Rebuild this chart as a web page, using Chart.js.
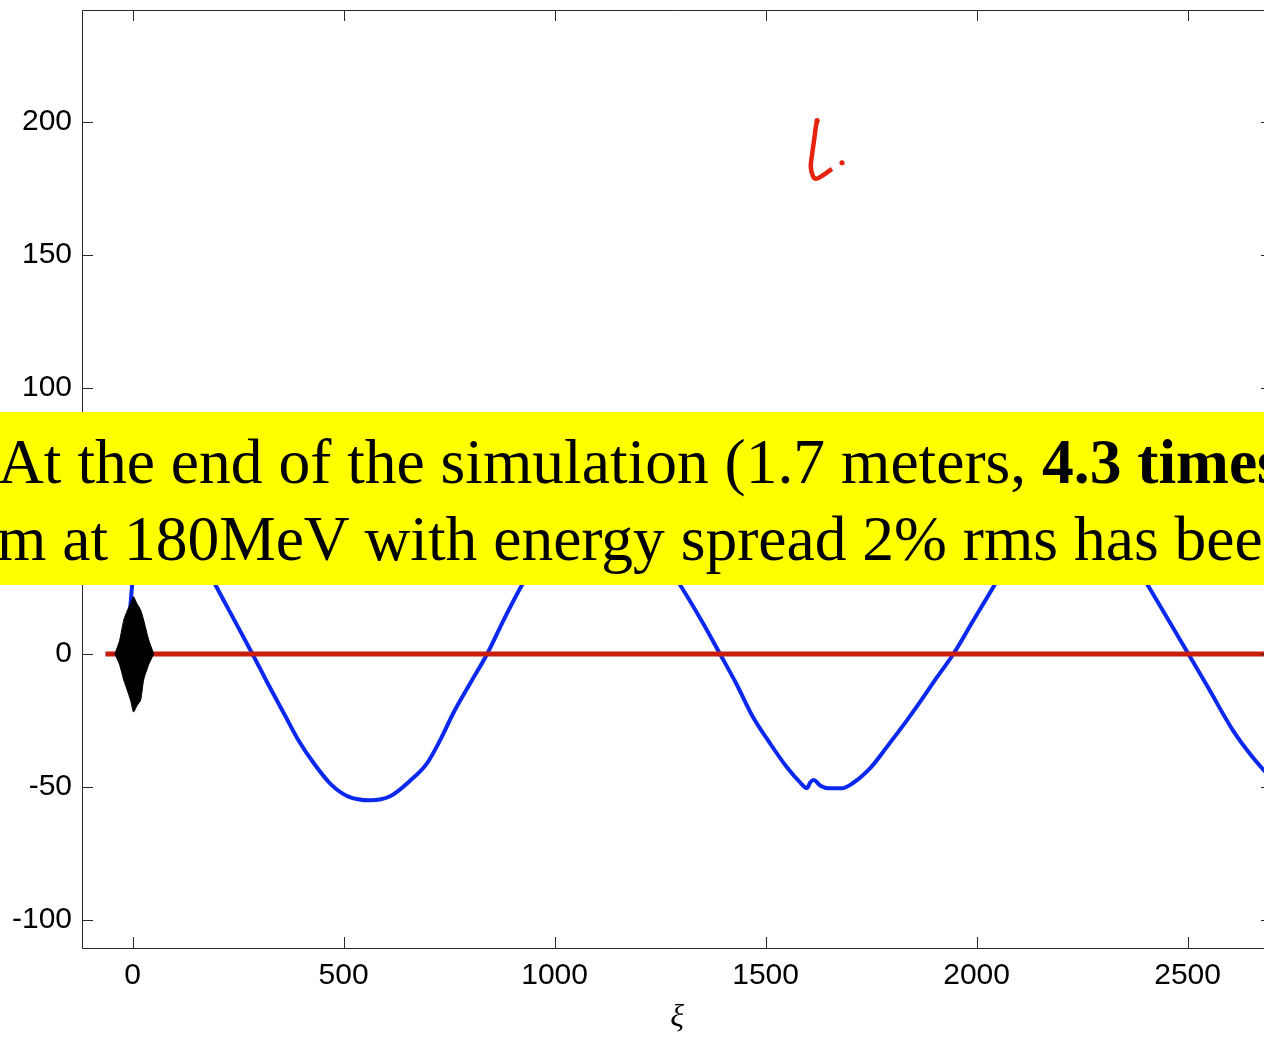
<!DOCTYPE html>
<html>
<head>
<meta charset="utf-8">
<script src="https://cdn.jsdelivr.net/npm/chart.js@4.4.1/dist/chart.umd.min.js"></script>
<style>
  html, body { margin: 0; padding: 0; background: #ffffff; overflow: hidden; width: 1264px; height: 1037px; }
  #wrap { position: absolute; left: 0; top: 0; width: 1290px; height: 1037px; }
  #banner { position: absolute; left: 0; top: 412px; width: 1264px; height: 173px; background: #ffff00; overflow: hidden; }
  .bl { position: absolute; white-space: nowrap; font-family: "Times New Roman", "Liberation Serif", serif; font-size: 63.5px; line-height: 64px; color: #000; }
  #l1 { left: -2px; top: 18px; }
  #l2 { left: -3px; top: 95px; }
</style>
</head>
<body>
<div id="wrap"><canvas id="c" width="1290" height="1037"></canvas></div>
<div id="banner">
  <div class="bl" id="l1">At the end of the simulation (1.7 meters, <b>4.3 times</b></div>
  <div class="bl" id="l2">m at 180MeV with energy spread 2% rms has bee</div>
</div>
<script>
// ---- data ----
const wakeXi = [-64,-40,-20,-10,0,10,20,35,55,80,110,140,170,196,240,284,320,358,395,429,470,510,563,610,655,698,730,760,800,840,880,923,970,1020,1070,1110,1150,1200,1250,1297,1350,1392,1430,1470,1510,1550,1580,1598,1606,1614,1630,1650,1680,1707,1750,1787,1830,1866,1905,1945,1990,2043,2090,2140,2190,2230,2270,2320,2370,2405,2450,2502,2550,2607,2650,2680,2700];
const wakeVal = [0,0,3,10,28,42,50,55,57,56,51,44,34,26,13,0,-11,-22.2,-33,-41,-49,-53.5,-55,-53.5,-48,-41,-32,-22.2,-11,0,13,26,38,48,54,56,54,47,37,26,12,0,-11,-23.7,-33.5,-42.5,-48,-50.4,-48.2,-47.4,-49.5,-50.5,-50.5,-48.5,-42.5,-35,-26,-18,-9,0,12,26,38,48,54,56,54,46,35,26,14,0,-13,-28.6,-38,-43.6,-47];

const axisXi = [-64, 2700];
const axisVal = [0, 0];

const bunchXi = [-42,-31,-21,-12,-5,2,10,19,26,38,50];
const bunchUpper = [0,5,12.8,16.5,19,21.5,19,16.5,12.8,5.3,0];
const bunchLower = [0,-4,-9.8,-14,-17.3,-21.8,-19.5,-17.3,-9.8,-4,0];

const markXi = [1622,1619,1615,1610,1607,1612,1619,1634,1657];
const markVal = [200.4,198.1,193.2,187.6,183.1,179.7,178.6,179.7,182.3];
const dotXi = [1622, 1681];
const dotVal = [200.4, 184.6];

const xTickValues = [0, 500, 1000, 1500, 2000, 2500];
const yTickValues = [-100, -50, 0, 50, 100, 150, 200];

function pts(xs, ys) { return xs.map((x, i) => ({ x: x, y: ys[i] })); }

const boxPlugin = {
  id: 'box',
  afterDraw(chart) {
    const ctx = chart.ctx, a = chart.chartArea;
    const xs = chart.scales.x, ys = chart.scales.y;
    const L = 11;
    ctx.save();
    ctx.strokeStyle = '#2a2a2a';
    ctx.lineWidth = 1;
    ctx.beginPath();
    ctx.rect(a.left + 0.5, a.top + 0.5, a.right - a.left, a.bottom - a.top);
    xs.ticks.forEach(t => {
      const p = Math.round(xs.getPixelForValue(t.value)) + 0.5;
      ctx.moveTo(p, a.bottom); ctx.lineTo(p, a.bottom - L);
      ctx.moveTo(p, a.top); ctx.lineTo(p, a.top + L);
    });
    ys.ticks.forEach(t => {
      const p = Math.round(ys.getPixelForValue(t.value)) + 0.5;
      ctx.moveTo(a.left, p); ctx.lineTo(a.left + L, p);
      ctx.moveTo(a.right, p); ctx.lineTo(a.right - L, p);
    });
    ctx.stroke();
    ctx.restore();
  }
};

const tickFont = { family: 'Arial, "Liberation Sans", Helvetica, sans-serif', size: 30 };

new Chart(document.getElementById('c'), {
  type: 'line',
  data: {
    datasets: [
      { data: pts(markXi, markVal), borderColor: '#e6230f', borderWidth: 4.5, pointRadius: 0, fill: false, order: 0, tension: 0.3 },
      { data: pts(dotXi, dotVal), borderColor: '#e6230f', backgroundColor: '#e6230f', showLine: false, pointRadius: 2.6, pointBorderWidth: 0, order: 0 },
      { data: pts(bunchXi, bunchUpper), borderColor: '#000', backgroundColor: '#000', borderWidth: 1, pointRadius: 0, fill: '+1', order: 1, tension: 0.2 },
      { data: pts(bunchXi, bunchLower), borderColor: '#000', backgroundColor: '#000', borderWidth: 1, pointRadius: 0, fill: false, order: 1, tension: 0.2 },
      { data: pts(axisXi, axisVal), borderColor: '#c81e0a', borderWidth: 5, pointRadius: 0, fill: false, order: 2 },
      { data: pts(wakeXi, wakeVal), borderColor: '#0a28ee', borderWidth: 4, pointRadius: 0, fill: false, order: 3, cubicInterpolationMode: 'monotone' }
    ]
  },
  options: {
    responsive: false,
    animation: false,
    events: [],
    layout: { padding: { left: 0, right: 18, top: 10, bottom: 0 } },
    plugins: { legend: { display: false }, tooltip: { enabled: false } },
    scales: {
      x: {
        type: 'linear', min: -120, max: 2700,
        grid: { display: false, drawTicks: false }, border: { display: false },
        afterBuildTicks(s) { s.ticks = xTickValues.map(v => ({ value: v })); },
        ticks: { font: tickFont, color: '#000', padding: 10, maxRotation: 0, autoSkip: false, callback: v => String(v) },
        title: { display: true, text: 'ξ', color: '#000', font: { family: '"Times New Roman", "Liberation Serif", serif', size: 32, style: 'italic' }, padding: { top: 0, bottom: 0 } },
        afterFit(s) { s.height = 89; s.paddingLeft = 0; s.paddingRight = 0; }
      },
      y: {
        type: 'linear', min: -110.5, max: 242,
        grid: { display: false, drawTicks: false }, border: { display: false },
        afterBuildTicks(s) { s.ticks = yTickValues.map(v => ({ value: v })); },
        ticks: { font: tickFont, color: '#000', padding: 10, autoSkip: false, callback: v => String(v) },
        afterFit(s) { s.width = 82; s.paddingTop = 0; s.paddingBottom = 0; }
      }
    }
  },
  plugins: [boxPlugin]
});
</script>
</body>
</html>
